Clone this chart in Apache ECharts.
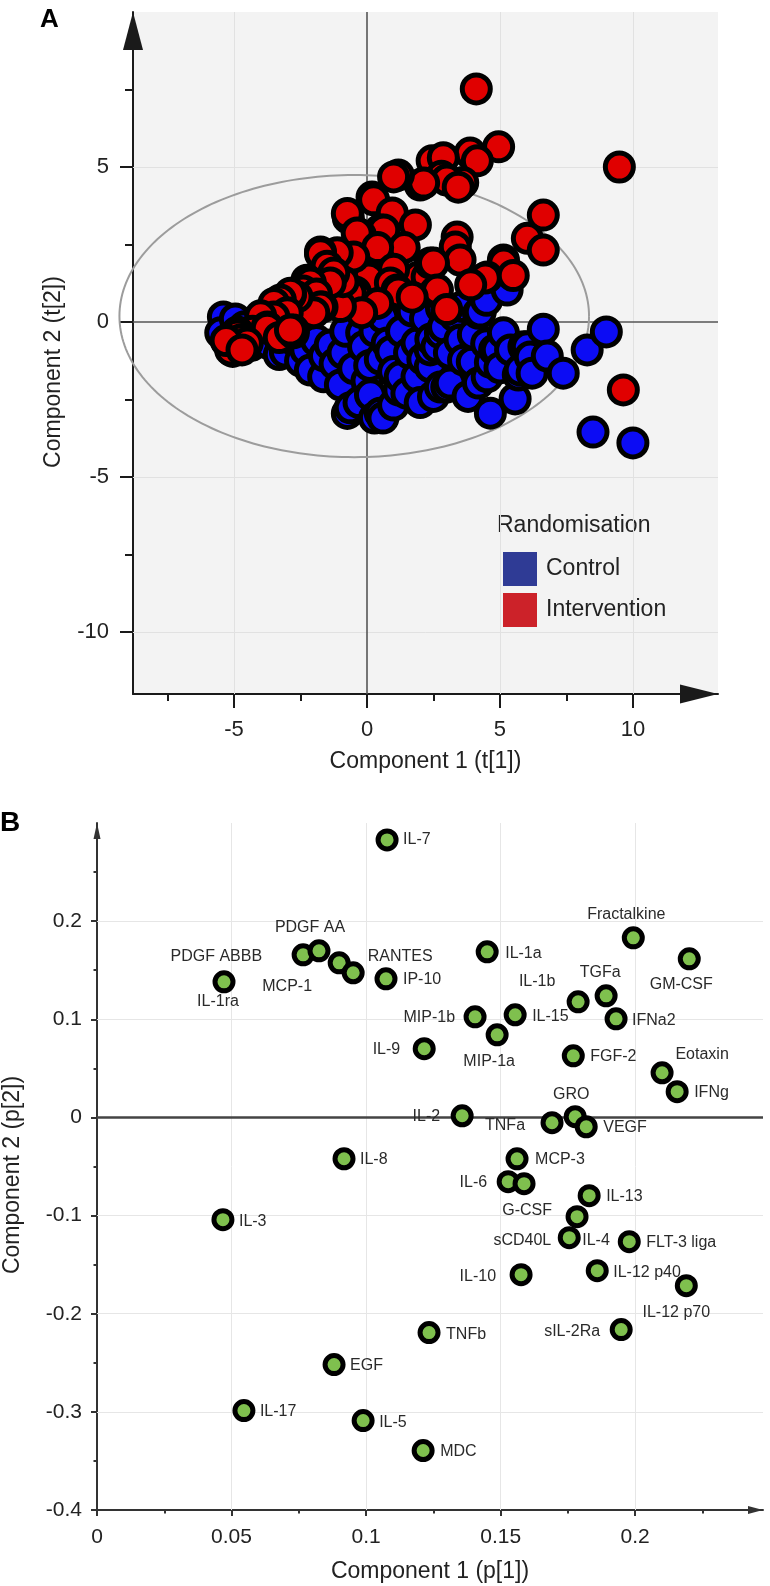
<!DOCTYPE html>
<html><head><meta charset="utf-8">
<script src="https://cdn.jsdelivr.net/npm/echarts@6/dist/echarts.min.js"></script>
<style>html,body{margin:0;padding:0;background:#fff}#c{width:770px;height:1586px}</style>
</head><body><div id="c"></div>
<script>
// ---------- Panel A: PLS-DA scores t[1] / t[2] ----------
const controlScores = [
 [-5.4,0.16],[-5.5,-0.35],[-5.25,-0.65],[-4.95,0.1],[-5.05,-0.95],[-4.6,-0.15],[-4.35,-0.75],
 [-3.7,-0.7],[-3.3,-1.05],[-3.07,-0.97],[-2.8,-0.55],[-2.5,-1.25],[-2.3,-0.9],[-2.13,-1.55],[-1.9,-0.6],
 [-1.63,-1.77],[-1.6,-1.1],[-1.38,-0.74],[-1.2,-1.35],[-1.0,-2.03],[-0.9,-1.0],[-0.8,-0.3],[-0.74,-2.95],
 [-0.63,-2.77],[-0.5,-1.5],[-0.3,-2.6],[-0.2,-0.35],[-0.13,-0.8],[0.0,-1.9],[0.1,-1.4],[0.13,-2.35],
 [0.28,-3.1],[0.3,-0.3],[0.5,-2.94],[0.5,-1.2],[0.6,0.15],[0.6,-3.1],[0.76,-0.68],[0.9,-0.95],[1.0,-2.68],
 [1.0,-1.6],[1.2,-2.2],[1.25,-1.77],[1.3,-0.3],[1.5,-2.3],[1.6,-1.0],[1.7,0.35],[1.88,-0.68],[1.88,-1.77],
 [2.0,-2.6],[2.1,-1.2],[2.2,0.1],[2.38,-1.45],[2.38,-0.9],[2.4,-0.55],[2.5,-2.4],[2.63,-0.8],[2.76,-0.35],
 [2.76,-2.1],[2.8,0.45],[2.88,-0.16],[3.0,-2.1],[3.1,-1.0],[3.13,-1.97],[3.3,0.2],[3.5,-0.58],[3.6,0.5],
 [3.63,-1.23],[3.8,-2.4],[3.96,-1.29],[4.0,-0.4],[4.19,0.28],[4.19,-1.97],[4.26,0.32],[4.5,-0.7],[4.5,0.7],
 [4.52,-1.77],[4.64,-1.3],[4.64,-2.94],[4.8,-0.9],[4.9,-0.9],[5.0,-1.48],[5.13,-0.35],[5.27,1.03],[5.4,-0.9],
 [5.57,-2.48],[5.69,-1.71],[5.76,-1.55],[5.9,-0.8],[6.03,-0.8],[6.14,-1.13],[6.21,-1.65],[6.63,-0.23],
 [6.78,-1.1],[7.38,-1.65],[8.28,-0.9],[9.0,-0.32],[8.5,-3.55],[10.0,-3.9]
];
const interventionScores = [
 [4.11,7.52],[9.49,5.0],[9.64,-2.19],
 [4.95,5.65],[3.88,5.45],[4.15,5.2],[2.45,5.2],[2.87,5.3],[2.8,4.7],[3.6,4.5],[3.0,4.58],[3.43,4.35],
 [2.0,4.42],[2.13,4.48],[1.18,4.74],[1.0,4.68],[0.19,4.03],[0.25,3.94],[-0.7,3.35],[-0.74,3.5],[0.95,3.52],
 [1.82,3.13],[0.5,2.97],[0.63,2.97],[-0.25,2.8],[-0.37,2.87],[3.39,2.74],[3.32,2.42],[6.63,3.45],[6.03,2.7],
 [6.63,2.32],[5.13,2.0],[5.14,1.9],[4.52,1.45],[4.45,1.42],[5.5,1.5],[3.5,2.0],[3.9,1.2],[0.81,2.06],
 [0.76,2.1],[1.4,2.4],[0.4,2.4],[1.94,1.45],[2.26,1.45],[2.38,1.9],[2.5,1.9],[1.0,1.7],[0.0,1.45],[0.06,1.42],
 [0.88,1.26],[-0.5,2.1],[-0.44,0.97],[-0.37,0.81],[-0.63,0.93],[1.13,1.03],[1.18,0.97],[2.57,0.97],[2.65,1.03],
 [1.7,0.8],[3.0,0.4],[0.4,0.6],[-0.2,0.3],[-1.0,0.5],[-0.9,1.3],[-1.12,2.23],[-1.75,2.26],[-1.75,2.2],
 [-1.5,1.8],[-1.25,1.58],[-1.38,1.26],[-2.26,1.35],[-2.13,1.26],[-2.4,1.0],[-1.9,0.9],[-1.69,0.48],
 [-1.75,0.48],[-2.0,0.3],[-2.63,0.81],[-2.88,0.87],[-2.88,0.93],[-3.26,0.71],[-3.5,0.6],[-3.0,0.3],
 [-3.5,0.16],[-4.0,0.2],[-4.3,-0.3],[-3.75,-0.16],[-3.75,-0.2],[-3.3,-0.5],[-2.77,-0.26],[-2.77,-0.35],
 [-2.88,-0.26],[-4.87,-0.32],[-4.87,-0.42],[-4.76,-0.58],[-4.5,-0.68],[-5.13,-0.9],[-5.3,-0.6],[-4.7,-0.9]
];
// Hotelling T2 ellipse: centre t1, centre t2, radius t1, radius t2
const ellipseParams = [-0.48, 0.19, 8.83, 4.55];
const scoreXTicks = [-5, 0, 5, 10];
const scoreXMinor = [-7.5, -2.5, 2.5, 7.5];
const scoreYTicks = [-10, -5, 0, 5];
const scoreYMinor = [-7.5, -2.5, 2.5, 7.5];
const scoreGridX = [-5, 5, 10];
const scoreGridY = [-10, -5, 5];

// ---------- Panel B: loadings p[1] / p[2] ----------
const cytokineNames = ['IL-7','PDGF ABBB','PDGF AA','MCP-1','RANTES','IL-1ra','IP-10','IL-1a','Fractalkine','GM-CSF',
 'TGFa','IL-1b','IFNa2','MIP-1b','IL-15','MIP-1a','IL-9','FGF-2','Eotaxin','IFNg','IL-2','TNFa','GRO','VEGF',
 'IL-8','MCP-3','IL-6','IL-4','IL-13','G-CSF','sCD40L','FLT-3 liga','IL-10','IL-12 p40','IL-12 p70','sIL-2Ra',
 'TNFb','MDC','IL-3','EGF','IL-17','IL-5'];
const loadingP1 = [0.1078,0.0766,0.0825,0.0900,0.0952,0.0472,0.1074,0.1450,0.1993,0.2201,
 0.1892,0.1788,0.1929,0.1405,0.1554,0.1487,0.1216,0.1770,0.2100,0.2156,0.1357,0.1691,0.1777,0.1818,
 0.0918,0.1561,0.1528,0.1587,0.1829,0.1784,0.1755,0.1978,0.1576,0.1859,0.2190,0.1948,
 0.1234,0.1212,0.0468,0.0881,0.0546,0.0989];
const loadingP2 = [0.2828,0.1657,0.1698,0.1575,0.1474,0.1382,0.1412,0.1687,0.1830,0.1616,
 0.1239,0.1178,0.1005,0.1025,0.1046,0.0842,0.0700,0.0628,0.0455,0.0262,0.0017,-0.0054,0.0007,-0.0095,
 -0.0421,-0.0422,-0.0655,-0.0675,-0.0797,-0.1011,-0.1225,-0.1266,-0.1602,-0.1561,-0.1714,-0.2162,
 -0.2192,-0.3394,-0.1042,-0.2518,-0.2987,-0.3089];
const loadXTicks = [0, 0.05, 0.1, 0.15, 0.2];
const loadXMinor = [0.025, 0.075, 0.125, 0.175, 0.225];
const loadYTicks = [-0.4, -0.3, -0.2, -0.1, 0, 0.1, 0.2];
const loadYMinor = [-0.35, -0.25, -0.15, -0.05, 0.05, 0.15, 0.25];
const loadGridX = [0.05, 0.1, 0.15, 0.2];
const loadGridY = [-0.3, -0.2, -0.1, 0.1, 0.2];

// label placement (text align, dx, dy in px) - layout only
const labelPlacement = {
 'IL-7':['left',16,0],'PDGF ABBB':['right',-41,2],'PDGF AA':['center',-9,-23],'MCP-1':['center',-52,24],
 'RANTES':['center',47,-16],'IL-1ra':['center',-6,20],'IP-10':['left',17,1],'IL-1a':['left',18,2],
 'Fractalkine':['center',-7,-23],'GM-CSF':['center',-8,26],'TGFa':['center',-6,-23],'IL-1b':['center',-41,-20],
 'IFNa2':['left',16,2],'MIP-1b':['right',-20,1],'IL-15':['left',17,2],'MIP-1a':['center',-8,27],
 'IL-9':['right',-24,1],'FGF-2':['left',17,1],'Eotaxin':['center',40,-18],'IFNg':['left',17,1],
 'IL-2':['right',-22,1],'TNFa':['right',-27,3],'GRO':['center',-4,-22],'VEGF':['left',17,1],
 'IL-8':['left',16,1],'MCP-3':['left',18,1],'IL-6':['right',-21,1],'IL-4':['center',72,57],
 'IL-13':['left',17,1],'G-CSF':['right',-25,-6],'sCD40L':['right',-18,3],'FLT-3 liga':['left',17,1],
 'IL-10':['right',-25,2],'IL-12 p40':['left',16,2],'IL-12 p70':['center',-10,27],'sIL-2Ra':['right',-21,2],
 'TNFb':['left',17,2],'MDC':['left',17,1],'IL-3':['left',16,2],'EGF':['left',16,1],'IL-17':['left',16,1],
 'IL-5':['left',16,2]
};

const FONT = '"Liberation Sans", Arial, Helvetica, sans-serif';
const TXT = '#222';

function mainAxis(gi, min, max, pos, ticks, o) {
  return {
    gridIndex: gi, type: 'value', min: min, max: max, position: pos,
    axisLine: { show: true, onZero: false, lineStyle: { color: o.lc, width: 2 },
      symbol: ['none', 'triangle'], symbolSize: o.arrow, symbolOffset: [0, -o.arrow[1] / 2] },
    axisTick: { show: true, customValues: ticks, length: o.tl, lineStyle: { color: o.lc, width: 2 } },
    axisLabel: { show: true, customValues: ticks, fontSize: o.fs, margin: o.margin, color: TXT, fontFamily: FONT },
    splitLine: { show: false }, minorTick: { show: false }, minorSplitLine: { show: false }
  };
}
function minorAxis(gi, min, max, pos, ticks, len, lc) {
  return {
    gridIndex: gi, type: 'value', min: min, max: max, position: pos,
    axisLine: { show: false, onZero: false },
    axisTick: { show: true, customValues: ticks, length: len, lineStyle: { color: lc, width: 2 } },
    axisLabel: { show: false }, splitLine: { show: false }
  };
}
function gridMarks(xs, ys, light, zeroColor, zeroWidth, zeroX) {
  const d = [];
  xs.forEach(v => d.push({ xAxis: v, lineStyle: { color: light, width: 1, type: 'solid' } }));
  ys.forEach(v => d.push({ yAxis: v, lineStyle: { color: light, width: 1, type: 'solid' } }));
  if (zeroX) d.push({ xAxis: 0, lineStyle: { color: zeroColor, width: zeroWidth, type: 'solid' } });
  d.push({ yAxis: 0, lineStyle: { color: zeroColor, width: zeroWidth, type: 'solid' } });
  return { silent: true, symbol: ['none', 'none'], z: 1, label: { show: false }, animation: false, data: d };
}

const xA = mainAxis(0, -8.8, 13.2, 'bottom', scoreXTicks, { lc: '#1a1a1a', arrow: [19, 38], tl: 14, fs: 22, margin: 25 });
xA.name = 'Component 1 (t[1])'; xA.nameLocation = 'middle'; xA.nameGap = 56;
xA.nameTextStyle = { fontSize: 23, color: TXT, fontFamily: FONT };
const yA = mainAxis(0, -12, 10, 'left', scoreYTicks, { lc: '#1a1a1a', arrow: [20, 38], tl: 13, fs: 22, margin: 24 });
const xB = mainAxis(1, 0, 0.2475, 'bottom', loadXTicks, { lc: '#333', arrow: [8, 15], tl: 6, fs: 21, margin: 17 });
xB.name = 'Component 1 (p[1])'; xB.nameLocation = 'middle'; xB.nameGap = 50;
xB.nameTextStyle = { fontSize: 23, color: TXT, fontFamily: FONT };
const yB = mainAxis(1, -0.4, 0.3, 'left', loadYTicks, { lc: '#333', arrow: [7, 16], tl: 6, fs: 21, margin: 15 });

const option = {
  animation: false,
  backgroundColor: '#ffffff',
  grid: [
    { left: 133, top: 12, width: 585, height: 682, show: true, backgroundColor: '#f3f3f3', borderWidth: 0 },
    { left: 97, top: 823, width: 666, height: 687, show: false }
  ],
  xAxis: [xA, minorAxis(0, -8.8, 13.2, 'bottom', scoreXMinor, 7, '#1a1a1a'),
          xB, minorAxis(1, 0, 0.2475, 'bottom', loadXMinor, 3.5, '#333')],
  yAxis: [yA, minorAxis(0, -12, 10, 'left', scoreYMinor, 8, '#1a1a1a'),
          yB, minorAxis(1, -0.4, 0.3, 'left', loadYMinor, 3.5, '#333')],
  legend: {
    show: true, orient: 'vertical', left: 498, top: 547, itemWidth: 34, itemHeight: 34, itemGap: 7,
    icon: 'rect', selectedMode: false,
    textStyle: { fontSize: 23, color: TXT, fontFamily: FONT, padding: [0, 0, 0, 4] },
    data: [
      { name: 'Control', itemStyle: { color: '#2f3b95', borderWidth: 0 } },
      { name: 'Intervention', itemStyle: { color: '#cc2229', borderWidth: 0 } }
    ]
  },
  graphic: [
    { type: 'text', x: 40, y: 20, style: { text: 'A', fontSize: 26, fontWeight: 'bold', fontFamily: FONT, fill: '#000', verticalAlign: 'middle' } },
    { type: 'text', x: 0, y: 823, style: { text: 'B', fontSize: 28, fontWeight: 'bold', fontFamily: FONT, fill: '#000', verticalAlign: 'middle' } },
    { type: 'text', x: 497, y: 526, style: { text: 'Randomisation', fontSize: 23, fontFamily: FONT, fill: TXT, verticalAlign: 'middle' } },
    { type: 'text', x: 54, y: 372, rotation: Math.PI / 2, style: { text: 'Component 2 (t[2])', fontSize: 23, fontFamily: FONT, fill: TXT, align: 'center', verticalAlign: 'middle' } },
    { type: 'text', x: 13, y: 1175, rotation: Math.PI / 2, style: { text: 'Component 2 (p[2])', fontSize: 23, fontFamily: FONT, fill: TXT, align: 'center', verticalAlign: 'middle' } }
  ],
  series: [
    {
      type: 'custom', name: 'T2 ellipse', xAxisIndex: 0, yAxisIndex: 0, z: 2, silent: true, clip: false,
      encode: { x: 0, y: 1 },
      data: [ellipseParams],
      renderItem: function (params, api) {
        const cx = api.value(0), cy = api.value(1), rx = api.value(2), ry = api.value(3);
        const pts = [];
        for (let k = 0; k <= 240; k++) {
          const t = k / 240 * Math.PI * 2;
          pts.push(api.coord([cx + rx * Math.cos(t), cy + ry * Math.sin(t)]));
        }
        return { type: 'polyline', shape: { points: pts }, style: { fill: null, stroke: '#9c9c9c', lineWidth: 2 } };
      },
      markLine: gridMarks(scoreGridX, scoreGridY, '#e1e1e1', '#555555', 1.6, true)
    },
    {
      type: 'scatter', name: 'Control', xAxisIndex: 0, yAxisIndex: 0, z: 3,
      symbol: 'circle', symbolSize: 28,
      itemStyle: { color: '#0c0cf4', borderColor: '#000', borderWidth: 5, opacity: 1 },
      emphasis: { disabled: true },
      data: controlScores
    },
    {
      type: 'scatter', name: 'Intervention', xAxisIndex: 0, yAxisIndex: 0, z: 4,
      symbol: 'circle', symbolSize: 28,
      itemStyle: { color: '#e00000', borderColor: '#000', borderWidth: 5, opacity: 1 },
      emphasis: { disabled: true },
      data: interventionScores
    },
    {
      type: 'scatter', name: 'Loadings', xAxisIndex: 2, yAxisIndex: 2, z: 3,
      symbol: 'circle', symbolSize: 18,
      itemStyle: { color: '#7fc04e', borderColor: '#000', borderWidth: 5, opacity: 1 },
      emphasis: { disabled: true },
      label: { show: true, position: 'inside', formatter: '{b}', fontSize: 16, color: '#2a2a2a', fontFamily: FONT },
      markLine: gridMarks(loadGridX, loadGridY, '#e6e6e6', '#444444', 2.5, false),
      data: cytokineNames.map(function (n, i) {
        const p = labelPlacement[n];
        return { name: n, value: [loadingP1[i], loadingP2[i]], label: { align: p[0], offset: [p[1], p[2]] } };
      })
    }
  ]
};
const chart = echarts.init(document.getElementById('c'), null, { renderer: 'canvas' });
chart.setOption(option);
</script></body></html>
